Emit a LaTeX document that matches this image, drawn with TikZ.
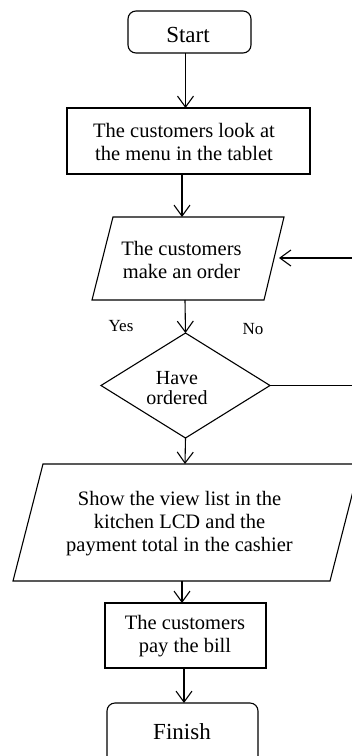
\documentclass[tikz,border=0pt]{standalone}
\usepackage{fontspec}
\setmainfont{Liberation Serif}
\usetikzlibrary{arrows.meta,shapes.geometric}
\begin{document}
\begin{tikzpicture}[x=1pt,y=-1pt,line width=1.1pt,
  shp/.style={draw, inner sep=0pt, outer sep=0pt},
  rbox/.style={shp, rectangle},
  term/.style={shp, rectangle, rounded corners=8pt},
  txt/.style={align=center, inner sep=0pt, font=\fontsize{20.5}{23}\selectfont},
  bigtxt/.style={align=center, inner sep=0pt, font=\fontsize{23}{26}\selectfont},
  lbl/.style={inner sep=0pt, font=\fontsize{17}{20}\selectfont},
  arr/.style={-{Straight Barb[length=11pt,width=16pt,line width=1.1pt]}}]
\useasboundingbox (0,0) rectangle (352,756);
\clip (0,0) rectangle (352,756);

% shapes
\node[term, minimum width=123pt, minimum height=42pt] (start) at (189.5,32) {};
\node[rbox, minimum width=243pt, minimum height=66pt] (box1) at (188.5,141) {};
\coordinate (oTL) at (113,217);
\coordinate (oTR) at (284,217);
\coordinate (oBR) at (264,300);
\coordinate (oBL) at (92,300);
\draw (oTL) -- (oTR) -- (oBR) -- (oBL) -- cycle;
\node[shp, diamond, minimum width=169pt, minimum height=105pt] (dec) at (185.5,385.5) {};
\coordinate (bTL) at (43,464);
\coordinate (bTR) at (360,464);
\coordinate (bBR) at (330,581);
\coordinate (bBL) at (13,581);
\draw (bTL) -- (bTR) -- (bBR) -- (bBL) -- cycle;
\node[rbox, minimum width=161pt, minimum height=65pt] (pay) at (185.5,635.5) {};
\node[term, minimum width=151pt, minimum height=70pt] (fin) at (182.5,738) {};

% texts
\node[bigtxt] (tstart) at (188,35) {Start};
\node[txt] (t1) at (184,141.5) {The customers look at\\the menu in the tablet};
\node[txt] (t2) at (181.5,260) {The customers\\make an order};
\node[txt, font=\fontsize{20}{19.5}\selectfont] (t3) at (177,388) {Have\\ordered};
\node[txt] (t4) at (179.5,524) {Show the view list in the\\kitchen LCD and the\\payment total in the cashier};
\node[txt] (t5) at (185,636) {The customers\\pay the bill};
\node[bigtxt] (t6) at (182,732) {Finish};
\node[lbl] (yes) at (121,326) {Yes};
\node[lbl] (no) at (253,329) {No};

% connectors
\coordinate (oin) at (182,217);
\coordinate (oout) at (185,300);
\coordinate (oright) at (279,258);
\coordinate (bin) at (185,464);
\coordinate (bout) at (182,581);
\draw[arr] ([xshift=-4pt]start.south) -- ([xshift=-4pt]start.south |- box1.north);
\draw[arr] (box1.south -| oin) -- (oin);
\draw[arr] (oout) -- (dec.north);
\draw[arr] (dec.south) -- (bin);
\draw[arr] (bout) -- (bout |- pay.north);
\draw[arr] ([xshift=-1.5pt]pay.south) -- ([xshift=-1.5pt]pay.south |- fin.north);
\draw[arr] (dec.east) -- ++(100,0) |- (oright);
\end{tikzpicture}
\end{document}
